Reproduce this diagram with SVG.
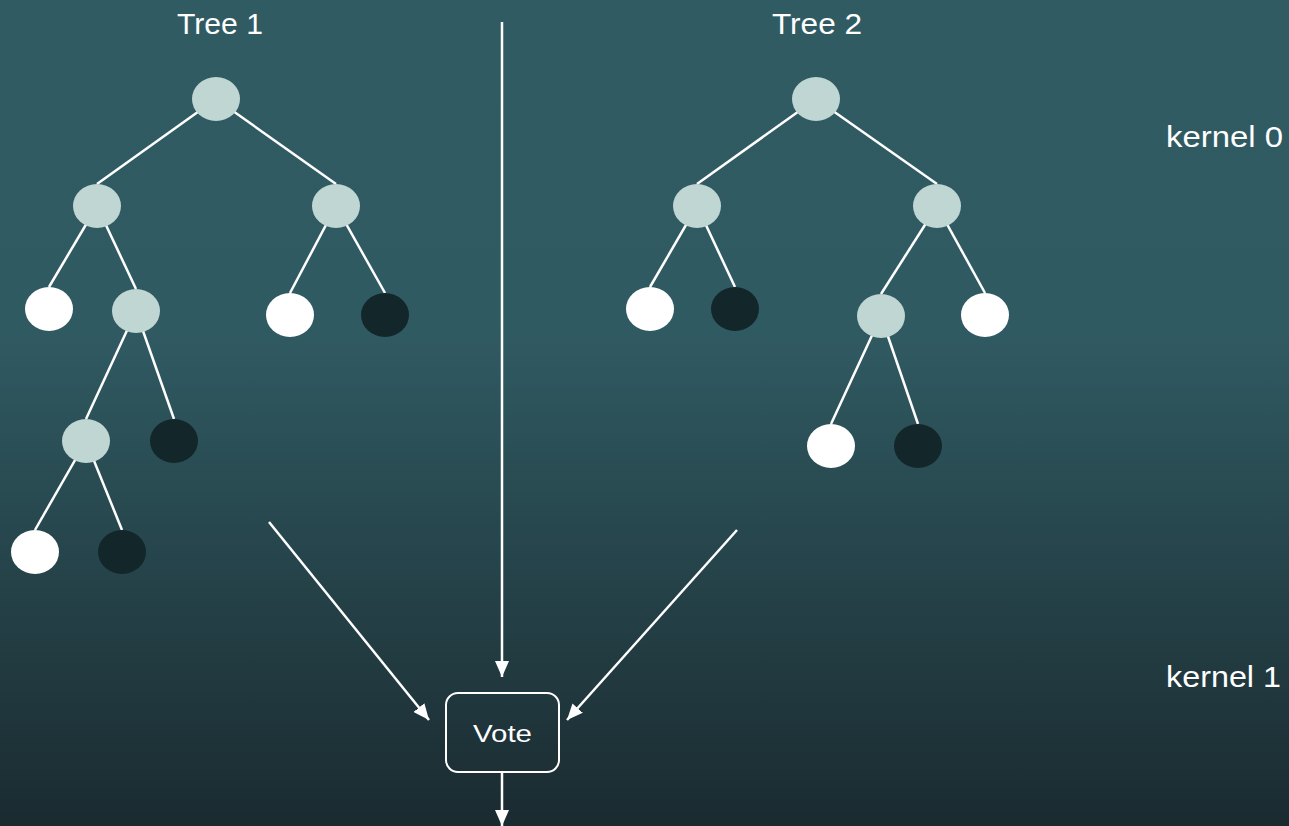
<svg xmlns="http://www.w3.org/2000/svg" width="1289" height="826" viewBox="0 0 1289 826">
<defs>
<linearGradient id="bg" x1="0" y1="0" x2="0" y2="1">
<stop offset="0" stop-color="#305b63"/>
<stop offset="0.4" stop-color="#305a62"/>
<stop offset="1" stop-color="#1a2b30"/>
</linearGradient>
<marker id="arr" markerWidth="16" markerHeight="14" refX="16" refY="7" orient="auto" markerUnits="userSpaceOnUse">
<path d="M0,0 L16,7 L0,14 Z" fill="#ffffff"/>
</marker>
<style>
.edge{stroke:#ffffff;stroke-width:2.5;fill:none}
.conn{stroke:#ffffff;stroke-width:2.5;fill:none;marker-end:url(#arr)}
.g{fill:#bfd6d3}
.w{fill:#ffffff}
.d{fill:#13272b}
.lbl{font-family:"Liberation Sans",Arial,sans-serif;fill:#ffffff}
</style>
</defs>
<rect x="0" y="0" width="1289" height="826" fill="url(#bg)"/>
<g id="edges">
<line class="edge" x1="216" y1="99" x2="97" y2="184"/>
<line class="edge" x1="216" y1="99" x2="336" y2="184"/>
<line class="edge" x1="97" y1="206" x2="49" y2="287"/>
<line class="edge" x1="97" y1="206" x2="136" y2="289"/>
<line class="edge" x1="336" y1="206" x2="290" y2="293"/>
<line class="edge" x1="336" y1="206" x2="385" y2="293"/>
<line class="edge" x1="136" y1="311" x2="86" y2="419"/>
<line class="edge" x1="136" y1="311" x2="174" y2="419"/>
<line class="edge" x1="86" y1="441" x2="35" y2="530"/>
<line class="edge" x1="86" y1="441" x2="122" y2="530"/>
<line class="edge" x1="816" y1="99" x2="697" y2="184"/>
<line class="edge" x1="816" y1="99" x2="937" y2="184"/>
<line class="edge" x1="697" y1="206" x2="650" y2="287"/>
<line class="edge" x1="697" y1="206" x2="735" y2="287"/>
<line class="edge" x1="937" y1="206" x2="881" y2="294"/>
<line class="edge" x1="937" y1="206" x2="985" y2="293"/>
<line class="edge" x1="881" y1="316" x2="831" y2="424"/>
<line class="edge" x1="881" y1="316" x2="918" y2="424"/>
</g>
<g id="tree1">
<ellipse id="t1-root" class="g" cx="216" cy="99" rx="24" ry="22"/>
<ellipse id="t1-l" class="g" cx="97" cy="206" rx="24" ry="22"/>
<ellipse id="t1-r" class="g" cx="336" cy="206" rx="24" ry="22"/>
<ellipse id="t1-ll" class="w" cx="49" cy="309" rx="24" ry="22"/>
<ellipse id="t1-lr" class="g" cx="136" cy="311" rx="24" ry="22"/>
<ellipse id="t1-rl" class="w" cx="290" cy="315" rx="24" ry="22"/>
<ellipse id="t1-rr" class="d" cx="385" cy="315" rx="24" ry="22"/>
<ellipse id="t1-lrl" class="g" cx="86" cy="441" rx="24" ry="22"/>
<ellipse id="t1-lrr" class="d" cx="174" cy="441" rx="24" ry="22"/>
<ellipse id="t1-lrll" class="w" cx="35" cy="552" rx="24" ry="22"/>
<ellipse id="t1-lrlr" class="d" cx="122" cy="552" rx="24" ry="22"/>
</g>
<g id="tree2">
<ellipse id="t2-root" class="g" cx="816" cy="99" rx="24" ry="22"/>
<ellipse id="t2-l" class="g" cx="697" cy="206" rx="24" ry="22"/>
<ellipse id="t2-r" class="g" cx="937" cy="206" rx="24" ry="22"/>
<ellipse id="t2-ll" class="w" cx="650" cy="309" rx="24" ry="22"/>
<ellipse id="t2-lr" class="d" cx="735" cy="309" rx="24" ry="22"/>
<ellipse id="t2-rl" class="g" cx="881" cy="316" rx="24" ry="22"/>
<ellipse id="t2-rr" class="w" cx="985" cy="315" rx="24" ry="22"/>
<ellipse id="t2-rll" class="w" cx="831" cy="446" rx="24" ry="22"/>
<ellipse id="t2-rlr" class="d" cx="918" cy="446" rx="24" ry="22"/>
</g>
<g id="connectors">
<line class="conn" x1="502" y1="22" x2="502" y2="677"/>
<line class="conn" x1="269" y1="522" x2="429" y2="720"/>
<line class="conn" x1="737" y1="530" x2="567" y2="720"/>
<line class="conn" x1="502" y1="772" x2="502" y2="826"/>
</g>
<g id="vote">
<rect x="446" y="693" width="113" height="79" rx="12" ry="12" fill="none" stroke="#ffffff" stroke-width="2"/>
<text class="lbl" x="502.5" y="742" font-size="24" text-anchor="middle" textLength="59" lengthAdjust="spacingAndGlyphs">Vote</text>
</g>
<g id="labels">
<text class="lbl" x="177" y="34" font-size="30" textLength="86" lengthAdjust="spacingAndGlyphs">Tree 1</text>
<text class="lbl" x="772" y="34" font-size="30" textLength="90" lengthAdjust="spacingAndGlyphs">Tree 2</text>
<text class="lbl" x="1166" y="147" font-size="30" textLength="117" lengthAdjust="spacingAndGlyphs">kernel 0</text>
<text class="lbl" x="1166" y="687" font-size="30" textLength="115" lengthAdjust="spacingAndGlyphs">kernel 1</text>
</g>
</svg>
